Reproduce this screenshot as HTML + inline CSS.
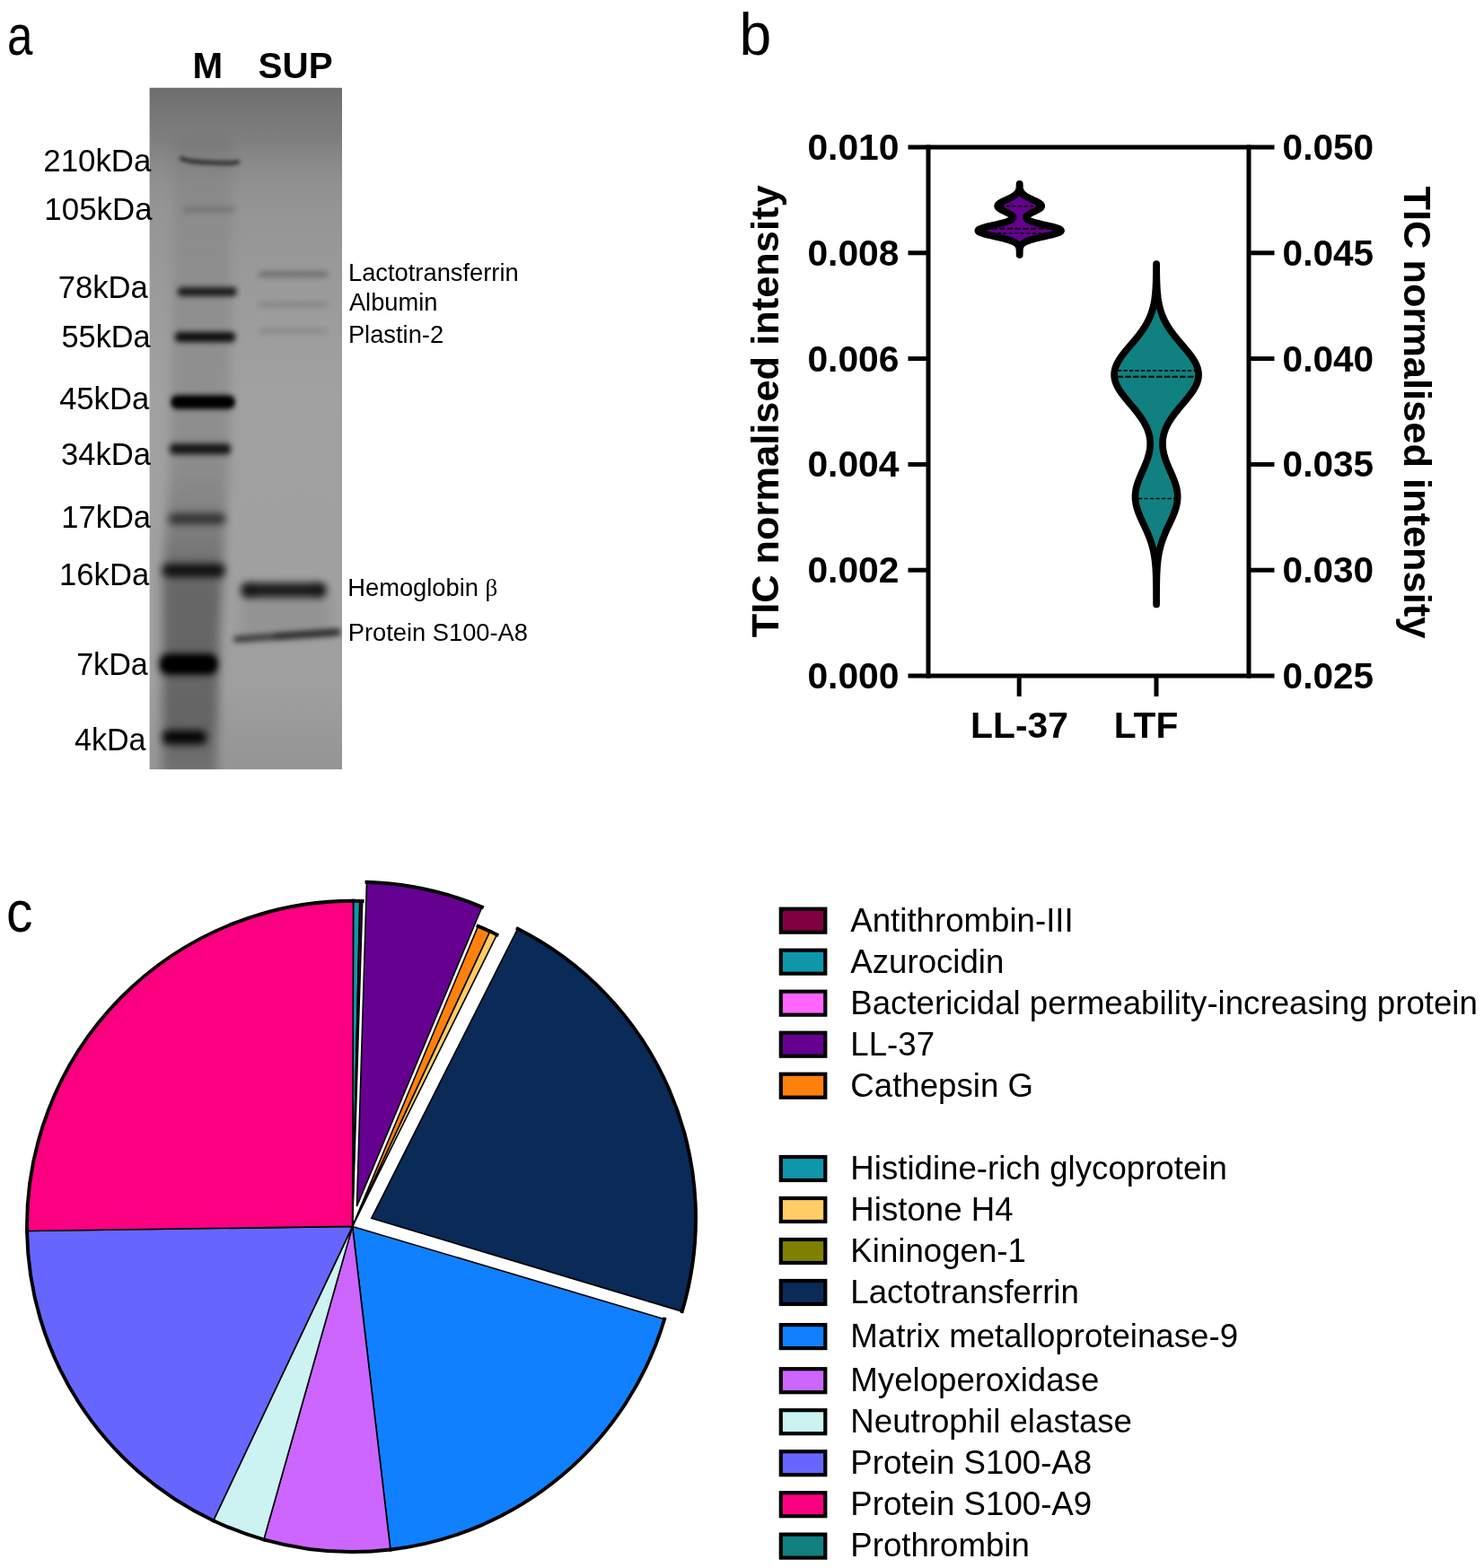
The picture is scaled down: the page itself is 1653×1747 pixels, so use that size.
<!DOCTYPE html>
<html lang="en"><head><meta charset="utf-8"><title>Figure</title>
<style>html,body{margin:0;padding:0;background:#fff;overflow:hidden}svg{display:block}text{font-family:"Liberation Sans",sans-serif;fill:#000}.b{font-weight:bold}</style></head><body>
<svg width="1653" height="1747" viewBox="0 0 1653 1747" role="img" aria-label="Figure: gel, violin plot and pie chart">
<rect width="1653" height="1747" fill="#fff"/>
<defs>
<linearGradient id="gelbg" x1="0" y1="0" x2="0" y2="1"><stop offset="0" stop-color="#6e6e6e"/><stop offset="0.04" stop-color="#777777"/><stop offset="0.08" stop-color="#808080"/><stop offset="0.11" stop-color="#898989"/><stop offset="0.14" stop-color="#909090"/><stop offset="0.185" stop-color="#959595"/><stop offset="0.26" stop-color="#999999"/><stop offset="0.45" stop-color="#a1a1a1"/><stop offset="0.88" stop-color="#9f9f9f"/><stop offset="1" stop-color="#949494"/></linearGradient>
<filter id="bl2" x="-50%" y="-300%" width="200%" height="700%"><feGaussianBlur stdDeviation="2"/></filter>
<filter id="bl3" x="-50%" y="-300%" width="200%" height="700%"><feGaussianBlur stdDeviation="3"/></filter>
<filter id="bl4" x="-50%" y="-300%" width="200%" height="700%"><feGaussianBlur stdDeviation="4"/></filter>
<filter id="bl6" x="-50%" y="-300%" width="200%" height="700%"><feGaussianBlur stdDeviation="6"/></filter>
<filter id="bl10" x="-50%" y="-300%" width="200%" height="700%"><feGaussianBlur stdDeviation="10"/></filter>
<filter id="bl14" x="-50%" y="-300%" width="200%" height="700%"><feGaussianBlur stdDeviation="14"/></filter>
<linearGradient id="lanefade" gradientUnits="userSpaceOnUse" x1="0" y1="150" x2="0" y2="870"><stop offset="0" stop-color="#000" stop-opacity="0.04"/><stop offset="0.30" stop-color="#000" stop-opacity="0.09"/><stop offset="0.52" stop-color="#000" stop-opacity="0.13"/><stop offset="0.62" stop-color="#000" stop-opacity="0.22"/><stop offset="0.70" stop-color="#000" stop-opacity="0.36"/><stop offset="0.90" stop-color="#000" stop-opacity="0.36"/><stop offset="1" stop-color="#000" stop-opacity="0.22"/></linearGradient>
<filter id="soft" x="-5%" y="-20%" width="110%" height="140%"><feGaussianBlur stdDeviation="0.7"/></filter>
<clipPath id="gelclip"><rect x="166.6" y="97.8" width="214.4" height="759.4"/></clipPath>
</defs>
<text x="8.06" y="60.6" font-size="63.5" textLength="28.4" lengthAdjust="spacingAndGlyphs">a</text>
<text x="823.58" y="60.5" font-size="66.5" textLength="35.76" lengthAdjust="spacingAndGlyphs">b</text>
<text x="6.92" y="1038.1" font-size="64" textLength="29.51" lengthAdjust="spacingAndGlyphs">c</text>
<rect x="166.6" y="97.8" width="214.4" height="759.4000000000001" fill="url(#gelbg)"/>
<g clip-path="url(#gelclip)">
<path d="M194,150 L259,150 L256,500 L250,600 L245,700 L241,870 L181,870 L181,640 L188,540 L191,400 Z" fill="url(#lanefade)" filter="url(#bl6)"/>
<rect x="268" y="655" width="100" height="55" fill="#000" opacity="0.07" filter="url(#bl6)"/>
<path d="M202.5,176.5 C208,180.2 222,180.6 236,181.2 S258,182.6 264.5,180.6" fill="none" stroke="#000" stroke-width="5" stroke-linecap="round" opacity="0.62" filter="url(#bl2)"/>
<rect x="204.0" y="230.5" width="58.0" height="6.0" rx="2.3" fill="#000" opacity="0.17" filter="url(#bl3)"/>
<rect x="198.0" y="320.2" width="65.5" height="9.5" rx="3.7" fill="#000" opacity="0.85" filter="url(#bl3)"/>
<rect x="195.0" y="370.0" width="67.0" height="11.0" rx="4.2" fill="#000" opacity="0.92" filter="url(#bl3)"/>
<rect x="191.0" y="440.5" width="70.0" height="15.0" rx="5.8" fill="#000" opacity="1.0" filter="url(#bl3)"/>
<rect x="192.0" y="443.5" width="68.0" height="9.0" rx="3.5" fill="#000" opacity="0.8" filter="url(#bl2)"/>
<rect x="189.0" y="494.3" width="68.0" height="12.0" rx="4.6" fill="#000" opacity="0.85" filter="url(#bl3)"/>
<rect x="188.0" y="572.0" width="63.0" height="12.0" rx="4.6" fill="#000" opacity="0.62" filter="url(#bl4)"/>
<rect x="181.0" y="628.0" width="69.5" height="15.0" rx="5.8" fill="#000" opacity="0.85" filter="url(#bl4)"/>
<rect x="178.0" y="728.5" width="64.0" height="23.0" rx="8.8" fill="#000" opacity="1.0" filter="url(#bl4)"/>
<rect x="182.0" y="733.0" width="57.0" height="14.0" rx="5.4" fill="#000" opacity="0.9" filter="url(#bl3)"/>
<rect x="181.0" y="813.6" width="49.0" height="16.0" rx="6.2" fill="#000" opacity="0.95" filter="url(#bl4)"/>
<rect x="288.0" y="302.4" width="77.0" height="6.0" rx="2.3" fill="#000" opacity="0.3" filter="url(#bl3)"/>
<rect x="288.0" y="337.0" width="77.0" height="5.0" rx="1.9" fill="#000" opacity="0.16" filter="url(#bl3)"/>
<rect x="288.0" y="366.2" width="77.0" height="5.0" rx="1.9" fill="#000" opacity="0.13" filter="url(#bl3)"/>
<rect x="269.0" y="649.5" width="94.0" height="16.0" rx="6.2" fill="#000" opacity="0.82" filter="url(#bl4)"/>
<rect x="270.0" y="651.0" width="16.0" height="14.0" rx="5.4" fill="#000" opacity="0.25" filter="url(#bl4)"/>
<rect x="346.0" y="650.0" width="16.0" height="14.0" rx="5.4" fill="#000" opacity="0.25" filter="url(#bl4)"/>
<rect x="260.0" y="705.0" width="119.0" height="6.5" rx="2.5" fill="#000" opacity="0.7" filter="url(#bl3)" transform="rotate(-4.0 319.5 708.3)"/>
<rect x="305.0" y="703.8" width="74.0" height="6.0" rx="2.3" fill="#000" opacity="0.3" filter="url(#bl3)" transform="rotate(-4.0 342.0 706.8)"/>
</g>
<text class="b" x="231.3" y="87.2" font-size="40.4" text-anchor="middle">M</text>
<text class="b" x="329.1" y="87.2" font-size="40.4" text-anchor="middle">SUP</text>
<text x="48.36" y="190.6" font-size="35" textLength="120.0" lengthAdjust="spacingAndGlyphs">210kDa</text>
<text x="49.35" y="245.0" font-size="35" textLength="120.21" lengthAdjust="spacingAndGlyphs">105kDa</text>
<text x="64.74" y="331.6" font-size="35" textLength="99.95" lengthAdjust="spacingAndGlyphs">78kDa</text>
<text x="68.53" y="387.3" font-size="35" textLength="99.06" lengthAdjust="spacingAndGlyphs">55kDa</text>
<text x="66.14" y="456.0" font-size="35" textLength="100.05" lengthAdjust="spacingAndGlyphs">45kDa</text>
<text x="68.09" y="518.3" font-size="35" textLength="100.0" lengthAdjust="spacingAndGlyphs">34kDa</text>
<text x="68.28" y="587.5" font-size="35" textLength="99.81" lengthAdjust="spacingAndGlyphs">17kDa</text>
<text x="66.07" y="651.8" font-size="35" textLength="100.12" lengthAdjust="spacingAndGlyphs">16kDa</text>
<text x="85.16" y="752.0" font-size="35" textLength="79.62" lengthAdjust="spacingAndGlyphs">7kDa</text>
<text x="83.05" y="835.6" font-size="35" textLength="79.53" lengthAdjust="spacingAndGlyphs">4kDa</text>
<text x="388.0" y="312.6" font-size="27.3" fill="#1c1c1c" filter="url(#soft)">Lactotransferrin</text>
<text x="388.9" y="346.3" font-size="27.3" fill="#1c1c1c" filter="url(#soft)">Albumin</text>
<text x="387.9" y="381.6" font-size="27.3" fill="#1c1c1c" filter="url(#soft)">Plastin-2</text>
<text x="387.3" y="663.7" font-size="27.3" fill="#1c1c1c" filter="url(#soft)">Hemoglobin <tspan font-family="Liberation Serif,serif" font-size="27">β</tspan></text>
<text x="387.7" y="713.6" font-size="27.3" fill="#1c1c1c" filter="url(#soft)">Protein S100-A8</text>
<g stroke="#000" stroke-width="5.0" fill="none" stroke-linecap="butt">
<line x1="1034.0" y1="161.5" x2="1034.0" y2="755.5"/>
<line x1="1391.0" y1="161.5" x2="1391.0" y2="755.5"/>
<line x1="1011.5" y1="164.0" x2="1419.5" y2="164.0"/>
<line x1="1011.5" y1="753.0" x2="1419.5" y2="753.0"/>
<line x1="1011.5" y1="281.80" x2="1034.0" y2="281.80"/>
<line x1="1391.0" y1="281.80" x2="1419.5" y2="281.80"/>
<line x1="1011.5" y1="399.60" x2="1034.0" y2="399.60"/>
<line x1="1391.0" y1="399.60" x2="1419.5" y2="399.60"/>
<line x1="1011.5" y1="517.40" x2="1034.0" y2="517.40"/>
<line x1="1391.0" y1="517.40" x2="1419.5" y2="517.40"/>
<line x1="1011.5" y1="635.20" x2="1034.0" y2="635.20"/>
<line x1="1391.0" y1="635.20" x2="1419.5" y2="635.20"/>
<line x1="1135.2" y1="753.0" x2="1135.2" y2="775.9"/>
<line x1="1288.0" y1="753.0" x2="1288.0" y2="775.9"/>
</g>
<text class="b" x="1001.5" y="177.9" font-size="40.8" text-anchor="end">0.010</text>
<text class="b" x="1428.6" y="177.9" font-size="40.6">0.050</text>
<text class="b" x="1001.5" y="295.7" font-size="40.8" text-anchor="end">0.008</text>
<text class="b" x="1428.6" y="295.7" font-size="40.6">0.045</text>
<text class="b" x="1001.5" y="413.5" font-size="40.8" text-anchor="end">0.006</text>
<text class="b" x="1428.6" y="413.5" font-size="40.6">0.040</text>
<text class="b" x="1001.5" y="531.3" font-size="40.8" text-anchor="end">0.004</text>
<text class="b" x="1428.6" y="531.3" font-size="40.6">0.035</text>
<text class="b" x="1001.5" y="649.1" font-size="40.8" text-anchor="end">0.002</text>
<text class="b" x="1428.6" y="649.1" font-size="40.6">0.030</text>
<text class="b" x="1001.5" y="766.9" font-size="40.8" text-anchor="end">0.000</text>
<text class="b" x="1428.6" y="766.9" font-size="40.6">0.025</text>
<text class="b" x="1135.5" y="821.5" font-size="40.8" text-anchor="middle">LL-37</text>
<text class="b" x="1276.5" y="821.5" font-size="40.7" text-anchor="middle">LTF</text>
<text class="b" font-size="43.4" text-anchor="middle" transform="translate(866.5 458.4) rotate(-90)">TIC normalised intensity</text>
<text class="b" font-size="43.4" text-anchor="middle" transform="translate(1563.6 459.4) rotate(90)">TIC normalised intensity</text>
<path d="M1135.74,205.00 L1135.75,205.66 L1135.77,206.32 L1135.80,206.97 L1135.84,207.63 L1135.89,208.29 L1135.95,208.95 L1136.04,209.61 L1136.15,210.27 L1136.29,210.93 L1136.46,211.58 L1136.68,212.24 L1136.94,212.90 L1137.27,213.56 L1137.66,214.22 L1138.13,214.88 L1138.67,215.53 L1139.31,216.19 L1140.04,216.85 L1140.87,217.51 L1141.81,218.17 L1142.85,218.82 L1143.98,219.48 L1145.20,220.14 L1146.51,220.80 L1147.88,221.46 L1149.29,222.12 L1150.72,222.78 L1152.16,223.43 L1153.56,224.09 L1154.90,224.75 L1156.14,225.41 L1157.27,226.07 L1158.24,226.72 L1159.04,227.38 L1159.64,228.04 L1160.03,228.70 L1160.20,229.36 L1160.13,230.02 L1159.84,230.68 L1159.34,231.33 L1158.63,231.99 L1157.73,232.65 L1156.68,233.31 L1155.50,233.97 L1154.23,234.62 L1152.89,235.28 L1151.52,235.94 L1150.15,236.60 L1148.82,237.26 L1147.56,237.92 L1146.40,238.57 L1145.36,239.23 L1144.48,239.89 L1143.77,240.55 L1143.27,241.21 L1142.97,241.87 L1142.92,242.53 L1143.11,243.18 L1143.58,243.84 L1144.32,244.50 L1145.34,245.16 L1146.66,245.82 L1148.26,246.47 L1150.13,247.13 L1152.27,247.79 L1154.64,248.45 L1157.21,249.11 L1159.94,249.77 L1162.77,250.43 L1165.65,251.08 L1168.50,251.74 L1171.25,252.40 L1173.83,253.06 L1176.16,253.72 L1178.18,254.38 L1179.82,255.03 L1181.03,255.69 L1181.76,256.35 L1182.01,257.01 L1181.75,257.67 L1180.99,258.32 L1179.76,258.98 L1178.10,259.64 L1176.07,260.30 L1173.71,260.96 L1171.10,261.62 L1168.31,262.27 L1165.42,262.93 L1162.48,263.59 L1159.58,264.25 L1156.76,264.91 L1154.07,265.57 L1151.55,266.23 L1149.23,266.88 L1147.12,267.54 L1145.23,268.20 L1143.57,268.86 L1142.13,269.52 L1140.90,270.18 L1139.86,270.83 L1138.99,271.49 L1138.27,272.15 L1137.69,272.81 L1137.22,273.47 L1136.85,274.12 L1136.56,274.78 L1136.34,275.44 L1136.17,276.10 L1136.04,276.76 L1135.94,277.42 L1135.87,278.07 L1135.82,278.73 L1135.78,279.39 L1135.76,280.05 L1135.74,280.71 L1135.73,281.37 L1135.72,282.02 L1135.71,282.68 L1135.71,283.34 L1135.70,284.00 L1135.70,284.00 L1135.69,283.34 L1135.69,282.68 L1135.68,282.02 L1135.67,281.37 L1135.66,280.71 L1135.64,280.05 L1135.62,279.39 L1135.58,278.73 L1135.53,278.07 L1135.46,277.42 L1135.36,276.76 L1135.23,276.10 L1135.06,275.44 L1134.84,274.78 L1134.55,274.12 L1134.18,273.47 L1133.71,272.81 L1133.13,272.15 L1132.41,271.49 L1131.54,270.83 L1130.50,270.18 L1129.27,269.52 L1127.83,268.86 L1126.17,268.20 L1124.28,267.54 L1122.17,266.88 L1119.85,266.23 L1117.33,265.57 L1114.64,264.91 L1111.82,264.25 L1108.92,263.59 L1105.98,262.93 L1103.09,262.27 L1100.30,261.62 L1097.69,260.96 L1095.33,260.30 L1093.30,259.64 L1091.64,258.98 L1090.41,258.32 L1089.65,257.67 L1089.39,257.01 L1089.64,256.35 L1090.37,255.69 L1091.58,255.03 L1093.22,254.38 L1095.24,253.72 L1097.57,253.06 L1100.15,252.40 L1102.90,251.74 L1105.75,251.08 L1108.63,250.43 L1111.46,249.77 L1114.19,249.11 L1116.76,248.45 L1119.13,247.79 L1121.27,247.13 L1123.14,246.47 L1124.74,245.82 L1126.06,245.16 L1127.08,244.50 L1127.82,243.84 L1128.29,243.18 L1128.48,242.53 L1128.43,241.87 L1128.13,241.21 L1127.63,240.55 L1126.92,239.89 L1126.04,239.23 L1125.00,238.57 L1123.84,237.92 L1122.58,237.26 L1121.25,236.60 L1119.88,235.94 L1118.51,235.28 L1117.17,234.62 L1115.90,233.97 L1114.72,233.31 L1113.67,232.65 L1112.77,231.99 L1112.06,231.33 L1111.56,230.68 L1111.27,230.02 L1111.20,229.36 L1111.37,228.70 L1111.76,228.04 L1112.36,227.38 L1113.16,226.72 L1114.13,226.07 L1115.26,225.41 L1116.50,224.75 L1117.84,224.09 L1119.24,223.43 L1120.68,222.78 L1122.11,222.12 L1123.52,221.46 L1124.89,220.80 L1126.20,220.14 L1127.42,219.48 L1128.55,218.82 L1129.59,218.17 L1130.53,217.51 L1131.36,216.85 L1132.09,216.19 L1132.73,215.53 L1133.27,214.88 L1133.74,214.22 L1134.13,213.56 L1134.46,212.90 L1134.72,212.24 L1134.94,211.58 L1135.11,210.93 L1135.25,210.27 L1135.36,209.61 L1135.45,208.95 L1135.51,208.29 L1135.56,207.63 L1135.60,206.97 L1135.63,206.32 L1135.65,205.66 L1135.66,205.00 Z" fill="#660090" stroke="#000" stroke-width="7.8" stroke-linejoin="round" stroke-linecap="round"/>
<line x1="1114.61" y1="229.7" x2="1156.79" y2="229.7" stroke="#000" stroke-width="1.7" stroke-dasharray="4.3 2.2"/>
<line x1="1095.76" y1="254.7" x2="1175.64" y2="254.7" stroke="#000" stroke-width="1.9" stroke-dasharray="6.5 2.2"/>
<line x1="1097.76" y1="260.0" x2="1173.64" y2="260.0" stroke="#000" stroke-width="1.7" stroke-dasharray="4.3 2.2"/>
<path d="M1288.15,294.00 L1288.17,297.16 L1288.20,300.32 L1288.23,303.49 L1288.28,306.65 L1288.35,309.81 L1288.44,312.98 L1288.56,316.14 L1288.71,319.30 L1288.90,322.46 L1289.15,325.62 L1289.45,328.79 L1289.83,331.95 L1290.30,335.11 L1290.87,338.27 L1291.56,341.44 L1292.38,344.60 L1293.34,347.76 L1294.47,350.93 L1295.77,354.09 L1297.25,357.25 L1298.91,360.41 L1300.77,363.57 L1302.81,366.74 L1305.02,369.90 L1307.39,373.06 L1309.90,376.23 L1312.51,379.39 L1315.20,382.55 L1317.90,385.71 L1320.58,388.88 L1323.19,392.04 L1325.66,395.20 L1327.95,398.36 L1329.99,401.52 L1331.75,404.69 L1333.17,407.85 L1334.22,411.01 L1334.87,414.18 L1335.10,417.34 L1334.91,420.50 L1334.30,423.66 L1333.30,426.82 L1331.92,429.99 L1330.20,433.15 L1328.18,436.31 L1325.93,439.48 L1323.48,442.64 L1320.90,445.80 L1318.24,448.96 L1315.57,452.12 L1312.92,455.29 L1310.35,458.45 L1307.90,461.61 L1305.60,464.77 L1303.49,467.94 L1301.58,471.10 L1299.90,474.26 L1298.46,477.43 L1297.27,480.59 L1296.32,483.75 L1295.63,486.91 L1295.19,490.07 L1294.99,493.24 L1295.03,496.40 L1295.30,499.56 L1295.78,502.73 L1296.47,505.89 L1297.33,509.05 L1298.36,512.21 L1299.53,515.38 L1300.81,518.54 L1302.16,521.70 L1303.55,524.86 L1304.94,528.02 L1306.30,531.19 L1307.58,534.35 L1308.74,537.51 L1309.75,540.67 L1310.58,543.84 L1311.19,547.00 L1311.58,550.16 L1311.71,553.33 L1311.59,556.49 L1311.23,559.65 L1310.63,562.81 L1309.81,565.98 L1308.79,569.14 L1307.62,572.30 L1306.31,575.46 L1304.91,578.62 L1303.45,581.79 L1301.97,584.95 L1300.50,588.11 L1299.06,591.27 L1297.69,594.44 L1296.40,597.60 L1295.20,600.76 L1294.12,603.92 L1293.14,607.09 L1292.28,610.25 L1291.53,613.41 L1290.88,616.58 L1290.33,619.74 L1289.87,622.90 L1289.49,626.06 L1289.18,629.23 L1288.93,632.39 L1288.73,635.55 L1288.58,638.71 L1288.45,641.88 L1288.36,645.04 L1288.29,648.20 L1288.24,651.36 L1288.20,654.52 L1288.17,657.69 L1288.15,660.85 L1288.13,664.01 L1288.12,667.17 L1288.12,670.34 L1288.11,673.50 L1288.09,673.50 L1288.08,670.34 L1288.08,667.17 L1288.07,664.01 L1288.05,660.85 L1288.03,657.69 L1288.00,654.52 L1287.96,651.36 L1287.91,648.20 L1287.84,645.04 L1287.75,641.88 L1287.62,638.71 L1287.47,635.55 L1287.27,632.39 L1287.02,629.23 L1286.71,626.06 L1286.33,622.90 L1285.87,619.74 L1285.32,616.58 L1284.67,613.41 L1283.92,610.25 L1283.06,607.09 L1282.08,603.92 L1281.00,600.76 L1279.80,597.60 L1278.51,594.44 L1277.14,591.27 L1275.70,588.11 L1274.23,584.95 L1272.75,581.79 L1271.29,578.62 L1269.89,575.46 L1268.58,572.30 L1267.41,569.14 L1266.39,565.98 L1265.57,562.81 L1264.97,559.65 L1264.61,556.49 L1264.49,553.33 L1264.62,550.16 L1265.01,547.00 L1265.62,543.84 L1266.45,540.67 L1267.46,537.51 L1268.62,534.35 L1269.90,531.19 L1271.26,528.02 L1272.65,524.86 L1274.04,521.70 L1275.39,518.54 L1276.67,515.38 L1277.84,512.21 L1278.87,509.05 L1279.73,505.89 L1280.42,502.73 L1280.90,499.56 L1281.17,496.40 L1281.21,493.24 L1281.01,490.07 L1280.57,486.91 L1279.88,483.75 L1278.93,480.59 L1277.74,477.43 L1276.30,474.26 L1274.62,471.10 L1272.71,467.94 L1270.60,464.77 L1268.30,461.61 L1265.85,458.45 L1263.28,455.29 L1260.63,452.12 L1257.96,448.96 L1255.30,445.80 L1252.72,442.64 L1250.27,439.48 L1248.02,436.31 L1246.00,433.15 L1244.28,429.99 L1242.90,426.82 L1241.90,423.66 L1241.29,420.50 L1241.10,417.34 L1241.33,414.18 L1241.98,411.01 L1243.03,407.85 L1244.45,404.69 L1246.21,401.52 L1248.25,398.36 L1250.54,395.20 L1253.01,392.04 L1255.62,388.88 L1258.30,385.71 L1261.00,382.55 L1263.69,379.39 L1266.30,376.23 L1268.81,373.06 L1271.18,369.90 L1273.39,366.74 L1275.43,363.57 L1277.29,360.41 L1278.95,357.25 L1280.43,354.09 L1281.73,350.93 L1282.86,347.76 L1283.82,344.60 L1284.64,341.44 L1285.33,338.27 L1285.90,335.11 L1286.37,331.95 L1286.75,328.79 L1287.05,325.62 L1287.30,322.46 L1287.49,319.30 L1287.64,316.14 L1287.76,312.98 L1287.85,309.81 L1287.92,306.65 L1287.97,303.49 L1288.00,300.32 L1288.03,297.16 L1288.05,294.00 Z" fill="#118080" stroke="#000" stroke-width="7.7" stroke-linejoin="round" stroke-linecap="round"/>
<line x1="1244.92" y1="412.8" x2="1331.28" y2="412.8" stroke="#000" stroke-width="1.7" stroke-dasharray="4.3 2.2"/>
<line x1="1244.55" y1="419.7" x2="1331.65" y2="419.7" stroke="#000" stroke-width="1.9" stroke-dasharray="6.5 2.2"/>
<line x1="1267.89" y1="555.5" x2="1308.31" y2="555.5" stroke="#000" stroke-width="1.7" stroke-dasharray="4.3 2.2"/>
<path d="M392.60,1366.40 L393.55,1003.80 A362.6,362.6 0 0 1 400.83,1003.89 Z" fill="#0f96aa" stroke="#000" stroke-width="1.6" stroke-linejoin="miter"/>
<path d="M393.55,1003.80 A362.6,362.6 0 0 1 400.83,1003.89" fill="none" stroke="#000" stroke-width="3.9" stroke-linecap="square"/>
<path d="M392.60,1366.40 L400.83,1003.89 A362.6,362.6 0 0 1 403.67,1003.97 Z" fill="#4a0040" stroke="#000" stroke-width="1.6" stroke-linejoin="miter"/>
<path d="M400.83,1003.89 A362.6,362.6 0 0 1 403.67,1003.97" fill="none" stroke="#000" stroke-width="3.9" stroke-linecap="square"/>
<path d="M397.47,1343.92 L408.50,982.79 A361.3,361.3 0 0 1 536.90,1010.61 Z" fill="#660090" stroke="#000" stroke-width="1.6" stroke-linejoin="miter"/>
<path d="M408.50,982.79 A361.3,361.3 0 0 1 536.90,1010.61" fill="none" stroke="#000" stroke-width="3.9" stroke-linecap="square"/>
<path d="M392.60,1366.40 L532.53,1031.89 A362.6,362.6 0 0 1 545.84,1037.77 Z" fill="#ff800d" stroke="#000" stroke-width="1.6" stroke-linejoin="miter"/>
<path d="M532.53,1031.89 A362.6,362.6 0 0 1 545.84,1037.77" fill="none" stroke="#000" stroke-width="3.9" stroke-linecap="square"/>
<path d="M392.60,1366.40 L545.84,1037.77 A362.6,362.6 0 0 1 553.54,1041.47 Z" fill="#ffcc66" stroke="#000" stroke-width="1.6" stroke-linejoin="miter"/>
<path d="M545.84,1037.77 A362.6,362.6 0 0 1 553.54,1041.47" fill="none" stroke="#000" stroke-width="3.9" stroke-linecap="square"/>
<path d="M413.73,1357.32 L576.63,1034.83 A361.3,361.3 0 0 1 759.79,1461.14 Z" fill="#0a2a58" stroke="#000" stroke-width="1.6" stroke-linejoin="miter"/>
<path d="M576.63,1034.83 A361.3,361.3 0 0 1 759.79,1461.14" fill="none" stroke="#000" stroke-width="3.9" stroke-linecap="square"/>
<path d="M392.60,1366.40 L740.18,1469.69 A362.6,362.6 0 0 1 434.90,1726.52 Z" fill="#1080ff" stroke="#000" stroke-width="1.6" stroke-linejoin="miter"/>
<path d="M740.18,1469.69 A362.6,362.6 0 0 1 434.90,1726.52" fill="none" stroke="#000" stroke-width="3.9" stroke-linecap="square"/>
<path d="M392.60,1366.40 L434.90,1726.52 A362.6,362.6 0 0 1 293.87,1715.30 Z" fill="#cc66ff" stroke="#000" stroke-width="1.6" stroke-linejoin="miter"/>
<path d="M434.90,1726.52 A362.6,362.6 0 0 1 293.87,1715.30" fill="none" stroke="#000" stroke-width="3.9" stroke-linecap="square"/>
<path d="M392.60,1366.40 L293.87,1715.30 A362.6,362.6 0 0 1 237.64,1694.22 Z" fill="#ccf2f2" stroke="#000" stroke-width="1.6" stroke-linejoin="miter"/>
<path d="M293.87,1715.30 A362.6,362.6 0 0 1 237.64,1694.22" fill="none" stroke="#000" stroke-width="3.9" stroke-linecap="square"/>
<path d="M392.60,1366.40 L237.64,1694.22 A362.6,362.6 0 0 1 30.04,1371.46 Z" fill="#6666ff" stroke="#000" stroke-width="1.6" stroke-linejoin="miter"/>
<path d="M237.64,1694.22 A362.6,362.6 0 0 1 30.04,1371.46" fill="none" stroke="#000" stroke-width="3.9" stroke-linecap="square"/>
<path d="M392.60,1366.40 L30.04,1371.46 A362.6,362.6 0 0 1 393.55,1003.80 Z" fill="#fa0080" stroke="#000" stroke-width="1.6" stroke-linejoin="miter"/>
<path d="M30.04,1371.46 A362.6,362.6 0 0 1 393.55,1003.80" fill="none" stroke="#000" stroke-width="3.9" stroke-linecap="square"/>
<rect x="869.80" y="1012.70" width="49.50" height="26.00" fill="#800040" stroke="#000" stroke-width="4.2"/>
<text x="947.3" y="1037.5" font-size="36.65">Antithrombin-III</text>
<rect x="869.80" y="1058.70" width="49.50" height="26.00" fill="#0f96aa" stroke="#000" stroke-width="4.2"/>
<text x="947.3" y="1083.5" font-size="36.65">Azurocidin</text>
<rect x="869.80" y="1104.70" width="49.50" height="26.00" fill="#ff66ff" stroke="#000" stroke-width="4.2"/>
<text x="947.3" y="1129.5" font-size="36.65">Bactericidal permeability-increasing protein</text>
<rect x="869.80" y="1150.70" width="49.50" height="26.00" fill="#660090" stroke="#000" stroke-width="4.2"/>
<text x="947.3" y="1175.5" font-size="36.65">LL-37</text>
<rect x="869.80" y="1196.70" width="49.50" height="26.00" fill="#ff800d" stroke="#000" stroke-width="4.2"/>
<text x="947.3" y="1221.5" font-size="36.65">Cathepsin G</text>
<rect x="869.80" y="1289.00" width="49.50" height="26.00" fill="#0f96aa" stroke="#000" stroke-width="4.2"/>
<text x="947.3" y="1313.8" font-size="36.65">Histidine-rich glycoprotein</text>
<rect x="869.80" y="1335.00" width="49.50" height="26.00" fill="#ffcc66" stroke="#000" stroke-width="4.2"/>
<text x="947.3" y="1359.8" font-size="36.65">Histone H4</text>
<rect x="869.80" y="1381.00" width="49.50" height="26.00" fill="#808000" stroke="#000" stroke-width="4.2"/>
<text x="947.3" y="1405.8" font-size="36.65">Kininogen-1</text>
<rect x="869.80" y="1427.00" width="49.50" height="26.00" fill="#0a2a58" stroke="#000" stroke-width="4.2"/>
<text x="947.3" y="1451.8" font-size="36.65">Lactotransferrin</text>
<rect x="869.80" y="1476.10" width="49.50" height="26.00" fill="#1080ff" stroke="#000" stroke-width="4.2"/>
<text x="947.3" y="1500.9" font-size="36.65">Matrix metalloproteinase-9</text>
<rect x="869.80" y="1525.20" width="49.50" height="26.00" fill="#cc66ff" stroke="#000" stroke-width="4.2"/>
<text x="947.3" y="1550.0" font-size="36.65">Myeloperoxidase</text>
<rect x="869.80" y="1571.20" width="49.50" height="26.00" fill="#ccf2f2" stroke="#000" stroke-width="4.2"/>
<text x="947.3" y="1596.0" font-size="36.65">Neutrophil elastase</text>
<rect x="869.80" y="1617.20" width="49.50" height="26.00" fill="#6666ff" stroke="#000" stroke-width="4.2"/>
<text x="947.3" y="1642.0" font-size="36.65">Protein S100-A8</text>
<rect x="869.80" y="1663.20" width="49.50" height="26.00" fill="#fa0080" stroke="#000" stroke-width="4.2"/>
<text x="947.3" y="1688.0" font-size="36.65">Protein S100-A9</text>
<rect x="869.80" y="1709.60" width="49.50" height="26.00" fill="#118080" stroke="#000" stroke-width="4.2"/>
<text x="947.3" y="1734.4" font-size="36.65">Prothrombin</text>
</svg></body></html>
